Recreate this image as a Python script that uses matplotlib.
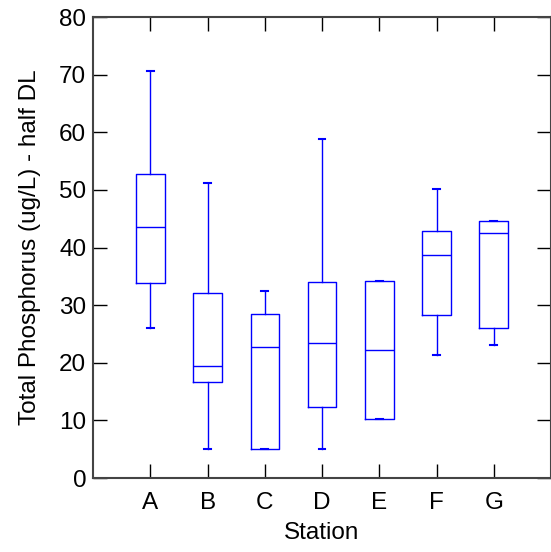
import matplotlib
matplotlib.use('Agg')
import matplotlib.pyplot as plt

plt.rcParams['font.family'] = ['Liberation Sans', 'DejaVu Sans']

# Station summary statistics (ug/L)
stations = ['A', 'B', 'C', 'D', 'E', 'F', 'G']
whislo = [26.0, 5.0, 5.0, 5.0, 10.2, 21.3, 23.1]
q1 = [33.8, 16.6, 5.0, 12.3, 10.2, 28.3, 26.1]
med = [43.5, 19.4, 22.7, 23.5, 22.2, 38.7, 42.6]
q3 = [52.8, 32.1, 28.5, 34.0, 34.2, 42.9, 44.6]
whishi = [70.7, 51.2, 32.4, 58.9, 34.2, 50.1, 44.6]

stats = []
for i, s in enumerate(stations):
    stats.append(dict(label=s, whislo=whislo[i], q1=q1[i], med=med[i],
                      q3=q3[i], whishi=whishi[i], fliers=[]))

fig = plt.figure(figsize=(5.51, 5.52), dpi=100)
ax = fig.add_axes([0.169, 0.134, 0.831, 0.835])

blue = '#0000ff'
pos = list(range(1, len(stations) + 1))
ax.bxp(stats, positions=pos, widths=0.5, capwidths=0.12, showfliers=False,
       boxprops=dict(color=blue, linewidth=1),
       whiskerprops=dict(color=blue, linewidth=1),
       capprops=dict(color=blue, linewidth=1.5),
       medianprops=dict(color=blue, linewidth=1))

ax.set_xlim(0, 8)
ax.set_ylim(0, 80)
ax.set_xticks(pos)
ax.set_xticklabels(stations)
ax.set_yticks(range(0, 81, 10))
ax.tick_params(axis='both', direction='in', length=10, width=1, color='black',
               labelsize=17.5, top=True, right=True)
ax.tick_params(axis='x', pad=10)
ax.tick_params(axis='y', pad=5)
for sp in ax.spines.values():
    sp.set_color('#444444')
    sp.set_linewidth(1.5)

ax.set_xlabel('Station', fontsize=17.5, labelpad=6)
ax.set_ylabel('Total Phosphorus (ug/L) - half DL', fontsize=17.5, labelpad=13)

fig.savefig('out.png', dpi=100)
